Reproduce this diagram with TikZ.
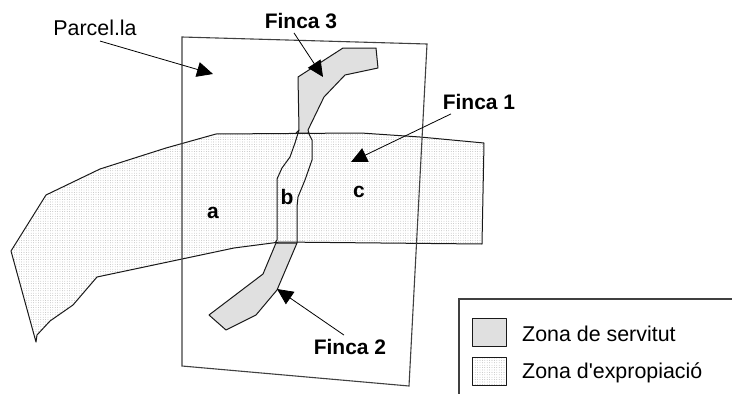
\documentclass[tikz,border=0pt]{standalone}
\usepackage{fontspec}
\setmainfont{Liberation Sans}
\usetikzlibrary{arrows.meta,patterns.meta}
\definecolor{servitut}{HTML}{E0E0E0}
\tikzstyle{every node}=[inner sep=0pt]
\tikzstyle{zone}=[draw=black!90,line width=1pt,line join=round]
\tikzstyle{expropiacio}=[zone,pattern={Dots[distance=2.4pt,radius=0.4pt]},pattern color=black!35]
\tikzstyle{servitud}=[zone,fill=servitut]
\tikzstyle{finca}=[font=\bfseries\fontsize{21}{24}\selectfont]
\tikzstyle{rotul}=[font=\fontsize{21.4}{24}\selectfont]
\tikzstyle{rotul legend}=[rotul,anchor=base west]
\tikzstyle{fletxa}=[draw=black,line width=0.8pt,-{Triangle[length=16pt,width=15pt]}]
\tikzstyle{vora}=[draw=black!75,line width=1.1pt]

\begin{document}
\begin{tikzpicture}[x=1pt,y=-1pt]
    \useasboundingbox (0,0) rectangle (732,394);
    \path[expropiacio] (11,251) -- (46,195) -- (100,169) -- (166,148) -- (216,134)
        -- (361,133) -- (420,137) -- (484,143) -- (482,244) -- (280,242) -- (234,248)
        -- (97,277) -- (73,305) -- (50,321) -- (37,335) -- (36,342) -- cycle;
    \path[servitud] (299,130) -- (298,77) -- (343,48) -- (376,48) -- (378,68) -- (345,75)
        -- (324,97) -- (308,130) -- (309,133) -- (296,133) -- cycle;
    \path[servitud] (276,243) -- (263,274) -- (209,315) -- (226,330) -- (256,315)
        -- (277,290) -- (297,243) -- cycle;
    \draw[zone] (299,130) -- (295,143) -- (290,157) -- (282,168) -- (277,179) -- (277,240) -- (275,243);
    \draw[zone] (308,132) -- (312,140) -- (312,160) -- (305,180) -- (298,197) -- (297,207) -- (297,243);
    \draw[vora] (182,37) -- (427,44) -- (409,386) -- (182,366) -- cycle;

    \node[rotul] (parcela) at (95,28) {Parcel.la};
    \node[finca] (finca3) at (301,21) {Finca 3};
    \node[finca] (finca1) at (479,102) {Finca 1};
    \node[finca] (finca2) at (350,347) {Finca 2};
    \node[finca] (a) at (213,213) {a};
    \node[finca] (b) at (287,197) {b};
    \node[finca] (c) at (359,192) {c};

    \coordinate (tipParcela) at (213,74);
    \coordinate (tipFinca3) at (323,77);
    \coordinate (tipFinca1) at (351,162);
    \coordinate (tipFinca2) at (277,289);
    \draw[fletxa] ([xshift=5pt,yshift=-5pt]parcela.south) -- (tipParcela);
    \draw[fletxa] ([xshift=-7pt,yshift=-4pt]finca3.south) -- (tipFinca3);
    \draw[fletxa] ([xshift=-28pt,yshift=-4pt]finca1.south) -- (tipFinca1);
    \draw[fletxa] ([xshift=-6pt,yshift=4pt]finca2.north) -- (tipFinca2);

    \coordinate (legendCorner) at (459,299);
    \coordinate (legendRight) at (732,299);
    \coordinate (legendBottom) at (459,394);
    \draw[vora] (legendRight) -- (legendCorner) -- (legendBottom);
    \node[servitud,minimum width=34pt,minimum height=28pt] (keyServitud) at (489,332) {};
    \node[expropiacio,minimum width=34pt,minimum height=28pt] (keyExpropiacio) at (489,371) {};
    \node[rotul legend] (textServitud) at (522,341) {Zona de servitut};
    \node[rotul legend] (textExpropiacio) at (522,378) {Zona d\textquotesingle expropiació};
\end{tikzpicture}
\end{document}
